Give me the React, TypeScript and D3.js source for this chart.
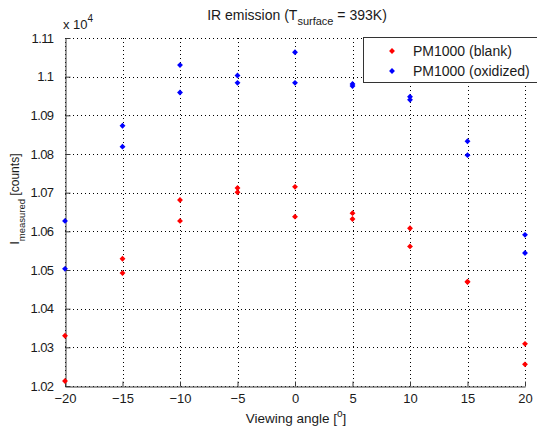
import React, { useEffect, useRef } from 'react';
import * as d3 from 'd3';

// viewing angles, two repeat measurements per angle
const angles = [-20, -15, -10, -5, 0, 5, 10, 15, 20];
const blankA = [10330, 10529, 10681, 10712, 10715, 10647, 10608, 10470, 10309];
const blankB = [10213, 10492, 10627, 10701, 10638, 10632, 10561, 10469, 10256];
const oxidA = [10627, 10873, 11030, 11003, 11063, 10981, 10948, 10833, 10591];
const oxidB = [10503, 10819, 10959, 10984, 10984, 10976, 10940, 10797, 10544];
const yTicks = [10200, 10300, 10400, 10500, 10600, 10700, 10800, 10900, 11000, 11100];
const seriesNames = ['PM1000 (blank)', 'PM1000 (oxidized)'];
const seriesColors = ['#ff0000', '#0000ff'];

export default function App() {
  const svgRef = useRef<SVGSVGElement>(null);

  useEffect(() => {
    const width = 537;
    const height = 430;
    const margin = { top: 38, right: 12, bottom: 44, left: 65 };
    const font = 'Liberation Sans, Arial, sans-serif';
    const ink = '#1a1a1a';

    const svg = d3.select(svgRef.current);
    svg.selectAll('*').remove();
    svg.attr('width', width).attr('height', height).style('font-family', font);

    svg.append('rect').attr('width', width).attr('height', height).attr('fill', '#fff');

    const x = d3.scaleLinear().domain([-20, 20]).range([margin.left, width - margin.right]);
    const y = d3.scaleLinear().domain([10200, 11100]).range([height - margin.bottom, margin.top]);

    // dotted grid
    const grid = svg.append('g').attr('stroke', '#000').attr('stroke-width', 1)
      .attr('stroke-dasharray', '1,3').attr('shape-rendering', 'crispEdges');
    grid.selectAll('line.gx').data(angles).enter().append('line')
      .attr('x1', d => Math.round(x(d)) + 0.5).attr('x2', d => Math.round(x(d)) + 0.5)
      .attr('y1', y(11100)).attr('y2', y(10200));
    grid.selectAll('line.gy').data(yTicks).enter().append('line')
      .attr('y1', d => Math.round(y(d)) + 0.5).attr('y2', d => Math.round(y(d)) + 0.5)
      .attr('x1', x(-20)).attr('x2', x(20));

    // axes (left + bottom only, ticks pointing inward)
    const xAxis = d3.axisBottom(x).tickValues(angles).tickSizeInner(-5).tickSizeOuter(0).tickPadding(7);
    const gx = svg.append('g').attr('transform', `translate(0,${Math.round(y(10200)) + 0.5})`).call(xAxis);
    const yAxis = d3.axisLeft(y).tickValues(yTicks).tickSizeInner(-5).tickSizeOuter(0).tickPadding(12)
      .tickFormat(d => String(+((d as number) / 1e4).toFixed(2)));
    const gy = svg.append('g').attr('transform', `translate(${Math.round(x(-20)) + 0.5},0)`).call(yAxis);
    [gx, gy].forEach(g => {
      g.select('.domain').attr('stroke', '#3a3a3a');
      g.selectAll('.tick line').attr('stroke', '#3a3a3a');
      g.selectAll('.tick text').attr('fill', ink).attr('font-size', 13).attr('font-family', font);
    });
    gy.selectAll('.tick text').attr('letter-spacing', -0.6);

    // points
    const marker = d3.symbol(d3.symbolDiamond2, 22)();
    const series = [
      [blankA, blankB],
      [oxidA, oxidB],
    ];
    series.forEach((reps, si) => {
      reps.forEach(vals => {
        svg.append('g').selectAll('path').data(vals).enter().append('path')
          .attr('d', marker)
          .attr('transform', (d, i) => `translate(${x(angles[i])},${y(d)})`)
          .attr('fill', seriesColors[si]);
      });
    });

    // title
    const title = svg.append('text').attr('x', 297).attr('y', 20).attr('text-anchor', 'middle')
      .attr('font-size', 14).attr('fill', ink);
    title.append('tspan').text('IR emission (T');
    title.append('tspan').attr('dy', 5).attr('font-size', 11).text('surface');
    title.append('tspan').attr('dy', -5).text(' = 393K)');

    // exponent
    const ex = svg.append('text').attr('x', 63).attr('y', 29).attr('font-size', 13).attr('fill', ink);
    ex.append('tspan').text('x 10');
    ex.append('tspan').attr('dy', -7).attr('font-size', 10).text('4');

    // x label
    const xl = svg.append('text').attr('x', 296).attr('y', 423).attr('text-anchor', 'middle')
      .attr('font-size', 13.5).attr('fill', ink);
    xl.append('tspan').text('Viewing angle [');
    xl.append('tspan').attr('dy', -6).attr('font-size', 10).text('o');
    xl.append('tspan').attr('dy', 6).text(']');

    // y label
    const yl = svg.append('text').attr('transform', 'translate(19,199) rotate(-90)')
      .attr('text-anchor', 'middle').attr('font-size', 12).attr('fill', ink);
    yl.append('tspan').text('I');
    yl.append('tspan').attr('dy', 6).attr('font-size', 9.5).text('measured');
    yl.append('tspan').attr('dy', -6).text(' [counts]');

    // legend
    const lg = svg.append('g');
    lg.append('rect').attr('x', 363.5).attr('y', 37.5).attr('width', 180).attr('height', 45)
      .attr('fill', '#fff').attr('stroke', '#333');
    seriesNames.forEach((name, i) => {
      const ly = 51 + i * 20;
      lg.append('path').attr('d', marker)
        .attr('transform', `translate(392,${ly})`).attr('fill', seriesColors[i]);
      lg.append('text').attr('x', 413).attr('y', ly + 5).attr('font-size', 14).attr('fill', ink).text(name);
    });
  }, []);

  return <svg ref={svgRef} style={{ position: 'absolute', left: 0, top: 0 }}></svg>;
}
